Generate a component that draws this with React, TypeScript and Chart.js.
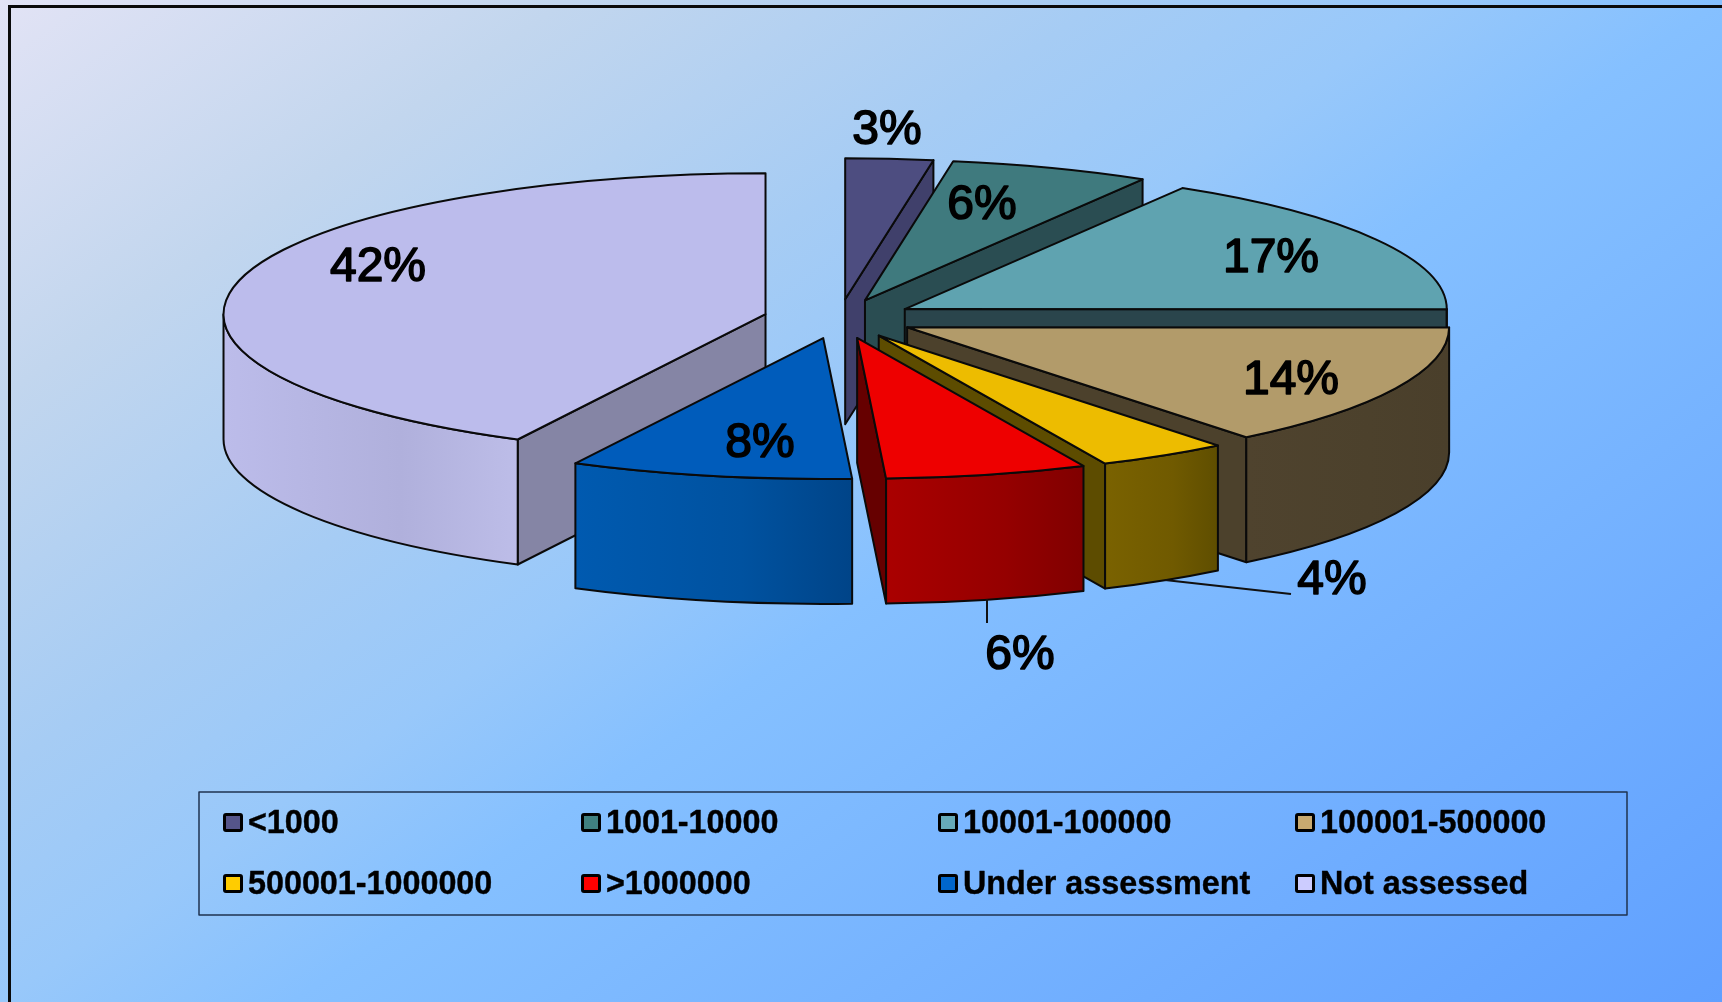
import React, { useEffect, useRef } from "react";
import { Chart, registerables } from "chart.js";

Chart.register(...registerables);

const categories = ["<1000", "1001-10000", "10001-100000", "100001-500000", "500001-1000000", ">1000000", "Under assessment", "Not assessed"];
const shares = [2.6, 5.95, 16.45, 14.2, 3.9, 6.0, 8.4, 42.4];
const percentLabels = ["3%", "6%", "17%", "14%", "4%", "6%", "8%", "42%"];

const faceColors = ["#4d4d80", "#3f7a7e", "#5fa3b0", "#b29b6a", "#edbc00", "#ee0000", "#005cbb", "#bcbcec"];
const keyColors = ["#55558a", "#408080", "#66aab8", "#c8aa70", "#ffcc00", "#ff0000", "#0066cc", "#ccccff"];
const radialWallColors = ["#40406b", "#2a4d52", "#2a454c", "#4c412c", "#5d4c00", "#660000", "#004488", "#8585a5"];
const rimLeftColors = ["#40406b", "#2a4d52", "#2a454c", "#4f432e", "#7a6200", "#aa0000", "#005ab0", "#bcbcea"];
const rimMidColors = ["#40406b", "#2a4d52", "#2a454c", "#4c412c", "#705a00", "#950000", "#0052a0", "#b0b0dc"];
const rimRightColors = ["#40406b", "#2a4d52", "#2a454c", "#4a3f2b", "#5f4e00", "#800000", "#004488", "#bdbde8"];

// Projection of the flat pie into the tilted view
const TILT = 0.26;
const DEPTH = 125;
const EXPLODE = 75.6;
const RADIUS = 542;
const DRAW_ORDER = [7, 0, 1, 2, 3, 4, 5, 6];

// Label centres, and the two leader lines
const LABEL_SPOTS = [[887, 131], [982, 206], [1271, 259], [1291, 381], [1332, 581], [1020, 656], [760, 444], [378, 268]];
const LEADERS = [[1165, 580, 1291, 594], [987, 599, 987, 623]];

const LEGEND_BOX = { x: 199, y: 792, w: 1428, h: 123 };
const LEGEND_COLS = [223, 581, 938, 1295];
const LEGEND_ROWS = [823, 884];

const pieView = {
  id: "pieView",
  beforeDatasetDraw(chart: any, args: any) {
    const ctx = chart.ctx;
    const arcs = chart.getDatasetMeta(args.index).data;
    for (const i of DRAW_ORDER) {
      const el = arcs[i];
      const a1 = el.startAngle;
      const a2 = el.endAngle;
      const r = el.outerRadius;
      const mid = (a1 + a2) / 2;
      const px = el.x + EXPLODE * Math.cos(mid);
      const py = el.y + EXPLODE * TILT * Math.sin(mid);
      const rimPoint = (a: number) => [px + r * Math.cos(a), py + r * TILT * Math.sin(a)];

      ctx.save();
      ctx.lineJoin = "round";
      ctx.lineWidth = 2;
      ctx.strokeStyle = "#0a0a0a";

      const radialWall = (a: number) => {
        const [qx, qy] = rimPoint(a);
        ctx.beginPath();
        ctx.moveTo(px, py);
        ctx.lineTo(qx, qy);
        ctx.lineTo(qx, qy + DEPTH);
        ctx.lineTo(px, py + DEPTH);
        ctx.closePath();
        ctx.fillStyle = radialWallColors[i];
        ctx.fill();
        ctx.stroke();
      };
      if (Math.cos(a1) < -1e-6) radialWall(a1);
      if (Math.cos(a2) > 1e-6) radialWall(a2);

      const from = Math.max(a1, 0);
      const to = Math.min(a2, Math.PI);
      if (to > from) {
        const [x1] = rimPoint(from);
        const [x2] = rimPoint(to);
        const g = ctx.createLinearGradient(Math.min(x1, x2), 0, Math.max(x1, x2), 0);
        g.addColorStop(0, rimLeftColors[i]);
        g.addColorStop(0.6, rimMidColors[i]);
        g.addColorStop(1, rimRightColors[i]);
        ctx.beginPath();
        ctx.ellipse(px, py, r, r * TILT, 0, from, to);
        ctx.ellipse(px, py + DEPTH, r, r * TILT, 0, to, from, true);
        ctx.closePath();
        ctx.fillStyle = g;
        ctx.fill();
        ctx.stroke();
      }

      ctx.save();
      ctx.translate(px, py);
      ctx.scale(1, TILT);
      ctx.translate(-el.x, -el.y);
      el.draw(ctx);
      ctx.restore();

      ctx.beginPath();
      ctx.moveTo(px, py);
      ctx.ellipse(px, py, r, r * TILT, 0, a1, a2);
      ctx.closePath();
      ctx.stroke();
      ctx.restore();
    }
    return false;
  },
  afterDraw(chart: any) {
    const ctx = chart.ctx;
    ctx.save();
    ctx.strokeStyle = "#111";
    ctx.lineWidth = 2;
    for (const [x1, y1, x2, y2] of LEADERS) {
      ctx.beginPath();
      ctx.moveTo(x1, y1);
      ctx.lineTo(x2, y2);
      ctx.stroke();
    }
    ctx.fillStyle = "#000";
    ctx.textAlign = "center";
    ctx.textBaseline = "middle";
    ctx.font = '48px "Liberation Sans"';
    ctx.lineWidth = 1.6;
    ctx.lineJoin = "round";
    ctx.strokeStyle = "#000";
    percentLabels.forEach((t, i) => {
      const [x, y] = LABEL_SPOTS[i];
      ctx.fillText(t, x, y);
      ctx.strokeText(t, x, y);
    });

    ctx.strokeStyle = "#1f3350";
    ctx.lineWidth = 1.5;
    ctx.strokeRect(LEGEND_BOX.x, LEGEND_BOX.y, LEGEND_BOX.w, LEGEND_BOX.h);
    ctx.textAlign = "left";
    ctx.font = 'bold 32.3px "Liberation Sans"';
    categories.forEach((name, i) => {
      const x = LEGEND_COLS[i % 4];
      const y = LEGEND_ROWS[Math.floor(i / 4)];
      ctx.fillStyle = keyColors[i];
      ctx.strokeStyle = "#000";
      ctx.lineWidth = 3;
      ctx.beginPath();
      ctx.roundRect(x + 1.5, y - 8.5, 17, 16, 1.5);
      ctx.fill();
      ctx.stroke();
      ctx.fillStyle = "#000";
      ctx.fillText(name, x + 25, y + 1);
      ctx.lineWidth = 0.4;
      ctx.strokeText(name, x + 25, y + 1);
    });
    ctx.restore();
  },
};

export default function App() {
  const ref = useRef<HTMLCanvasElement>(null);
  useEffect(() => {
    const chart = new Chart(ref.current as HTMLCanvasElement, {
      type: "pie",
      data: {
        labels: categories,
        datasets: [{ data: shares, backgroundColor: faceColors, borderWidth: 0 }],
      },
      options: {
        animation: false,
        responsive: false,
        radius: RADIUS,
        layout: { padding: { right: 44, bottom: 364.4 } },
        plugins: { legend: { display: false }, tooltip: { enabled: false } },
      } as any,
      plugins: [pieView],
    });
    return () => chart.destroy();
  }, []);
  return (
    <div
      style={{
        position: "fixed",
        inset: 0,
        overflow: "hidden",
        background:
          "linear-gradient(145deg, #e2e3f5 0%, #c2d6ee 18%, #a6ccf4 35%, #98c8fa 45.4%, #85c0ff 54.6%, #60a0ff 100%)",
      }}
    >
      <div
        style={{
          position: "absolute",
          left: 8,
          top: 5,
          right: -10,
          bottom: -10,
          borderLeft: "3px solid #0a0a0a",
          borderTop: "3px solid #0a0a0a",
        }}
      />
      <canvas ref={ref} width={1722} height={1002} style={{ position: "absolute", left: 0, top: 0, display: "block" }} />
    </div>
  );
}
